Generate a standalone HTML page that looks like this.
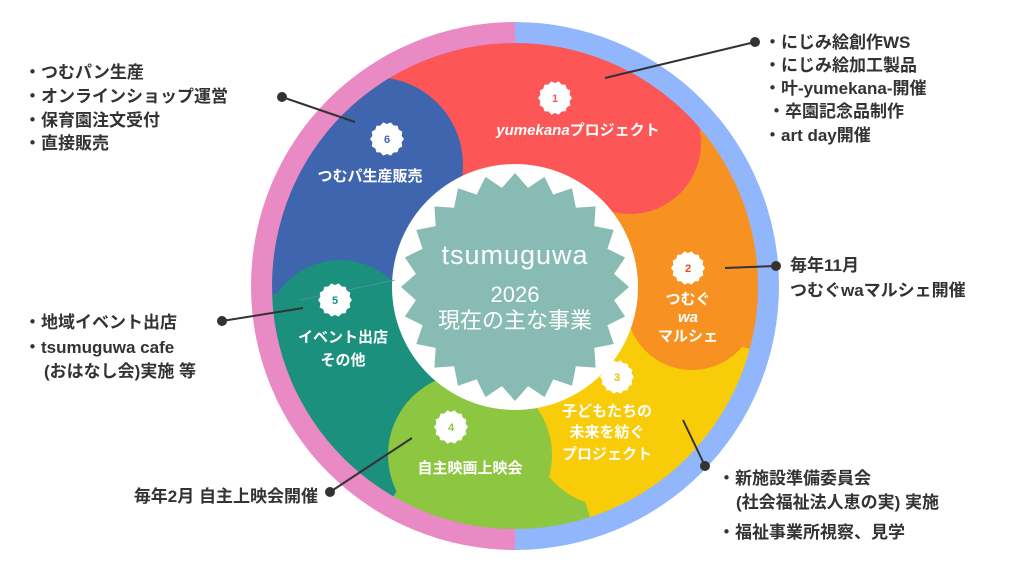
<!DOCTYPE html>
<html><head><meta charset="utf-8"><style>
html,body{margin:0;padding:0;background:#fff;width:1024px;height:574px;overflow:hidden}
svg{display:block}
text{font-family:"Liberation Sans","Noto Sans CJK JP",sans-serif;font-weight:bold}
.c{fill:#333;font-size:17px}
.w{fill:#fff;font-size:15px;text-anchor:middle}
.n{font-size:11px;text-anchor:middle;font-weight:bold}
</style></head><body>
<svg width="1024" height="574" viewBox="0 0 1024 574" xmlns="http://www.w3.org/2000/svg">
<defs><clipPath id="disk"><circle cx="515" cy="286" r="243"/></clipPath>
<clipPath id="lh"><rect x="0" y="0" width="515" height="574"/></clipPath>
<clipPath id="rh"><rect x="515" y="0" width="515" height="574"/></clipPath></defs>
<circle cx="515" cy="286" r="264" fill="#e98ac5" clip-path="url(#lh)"/>
<circle cx="515" cy="286" r="264" fill="#91b6fc" clip-path="url(#rh)"/>
<g clip-path="url(#disk)" id="wedges"></g>
<circle cx="515" cy="287" r="123" fill="#fff"/>
<polygon id="star" fill="#88bbb3"/>
<line x1="395" y1="280" x2="300" y2="300" stroke="#5a8fb0" stroke-width="0.8"/>
<g id="badges"></g>
<text x="515" y="264" text-anchor="middle" style="font-weight:normal;font-size:27px;fill:#fff;letter-spacing:1px">tsumuguwa</text>
<text x="515" y="302" text-anchor="middle" style="font-weight:normal;font-size:22px;fill:#fff">2026</text>
<text x="515" y="328" text-anchor="middle" style="font-weight:normal;font-size:22px;fill:#fff">現在の主な事業</text>
<text class="w" x="578" y="135"><tspan font-style="italic">yumekana</tspan>プロジェクト</text>
<text class="w" x="370" y="181">つむパ生産販売</text>
<text class="w" x="688" y="304">つむぐ</text>
<text class="w" x="688" y="322" font-style="italic">wa</text>
<text class="w" x="688" y="341">マルシェ</text>
<text class="w" x="607" y="416">子どもたちの</text>
<text class="w" x="607" y="437">未来を紡ぐ</text>
<text class="w" x="607" y="459">プロジェクト</text>
<text class="w" x="470" y="473">自主映画上映会</text>
<text class="w" x="343" y="342">イベント出店</text>
<text class="w" x="343" y="365">その他</text>
<g stroke="#333" stroke-width="2" fill="#333">
<line x1="755" y1="42" x2="605" y2="78"/><circle cx="755" cy="42" r="4"/>
<line x1="776" y1="266" x2="725" y2="268"/><circle cx="776" cy="266" r="4"/>
<line x1="705" y1="466" x2="683" y2="420"/><circle cx="705" cy="466" r="4"/>
<line x1="330" y1="492" x2="412" y2="438"/><circle cx="330" cy="492" r="4"/>
<line x1="222" y1="321" x2="303" y2="308"/><circle cx="222" cy="321" r="4"/>
<line x1="282" y1="97" x2="355" y2="122"/><circle cx="282" cy="97" r="4"/>
</g>
<text class="c" x="764" y="48">・にじみ絵創作WS</text>
<text class="c" x="764" y="71">・にじみ絵加工製品</text>
<text class="c" x="764" y="94">・叶-yumekana-開催</text>
<text class="c" x="768" y="117">・卒園記念品制作</text>
<text class="c" x="764" y="141">・art day開催</text>
<text class="c" x="790" y="271">毎年11月</text>
<text class="c" x="790" y="296">つむぐwaマルシェ開催</text>
<text class="c" x="718" y="484">・新施設準備委員会</text>
<text class="c" x="736" y="508">(社会福祉法人恵の実) 実施</text>
<text class="c" x="718" y="538">・福祉事業所視察、見学</text>
<text class="c" x="318" y="502" text-anchor="end">毎年2月  自主上映会開催</text>
<text class="c" x="24" y="328">・地域イベント出店</text>
<text class="c" x="24" y="353">・tsumuguwa cafe</text>
<text class="c" x="44" y="377">(おはなし会)実施 等</text>
<text class="c" x="24" y="78">・つむパン生産</text>
<text class="c" x="24" y="102">・オンラインショップ運営</text>
<text class="c" x="24" y="126">・保育園注文受付</text>
<text class="c" x="24" y="149">・直接販売</text>
</svg>
<script>
var NS="http://www.w3.org/2000/svg",cx=515,cy=286;
function el(t,a,p){var e=document.createElementNS(NS,t);for(var k in a)e.setAttribute(k,a[k]);p.appendChild(e);return e;}
function wedge(a0,a1,col){var r=300,p="M"+cx+" "+cy;for(var a=a0;a<=a1;a+=2){var t=a*Math.PI/180;p+=" L"+(cx+r*Math.cos(t))+" "+(cy+r*Math.sin(t));}var t=a1*Math.PI/180;p+=" L"+(cx+r*Math.cos(t))+" "+(cy+r*Math.sin(t))+"Z";el("path",{d:p,fill:col},W);}
var W=document.getElementById("wedges");
wedge(-135,-40,"#fd5657");wedge(-40,15,"#f79122");wedge(15,72,"#f9cc0a");wedge(72,120,"#8dc641");wedge(120,178,"#1b907d");wedge(178,225,"#3f65af");
el("circle",{cx:630,cy:143,r:71,fill:"#fd5657"},W);
el("circle",{cx:692,cy:304,r:66,fill:"#f79122"},W);
el("circle",{cx:610,cy:428,r:78,fill:"#f9cc0a"},W);
el("circle",{cx:470,cy:455,r:82,fill:"#8dc641"},W);
el("circle",{cx:340,cy:335,r:75,fill:"#1b907d"},W);
el("circle",{cx:375,cy:165,r:88,fill:"#3f65af"},W);
var pts=[],N=24;for(var i=0;i<2*N;i++){var r=i%2?100:114,t=(i*Math.PI/N)-Math.PI/2;pts.push((cx+r*Math.cos(t)).toFixed(1)+","+(287+r*Math.sin(t)).toFixed(1));}
document.getElementById("star").setAttribute("points",pts.join(" "));
var B=document.getElementById("badges");
[[555,98,"1","#fd5657"],[688,268,"2","#e8471e"],[617,377,"3","#f0c000"],[451,427,"4","#8dc641"],[335,300,"5","#1b907d"],[387,139,"6","#3f65af"]].forEach(function(b){
var p=[],n=14;for(var i=0;i<2*n;i++){var r=i%2?15:17,t=i*Math.PI/n;p.push((b[0]+r*Math.cos(t)).toFixed(1)+","+(b[1]+r*Math.sin(t)).toFixed(1));}
el("polygon",{points:p.join(" "),fill:"#fff"},B);
var tx=el("text",{x:b[0],y:b[1]+4,"class":"n",fill:b[3]},B);tx.textContent=b[2];});
</script>
</body></html>
